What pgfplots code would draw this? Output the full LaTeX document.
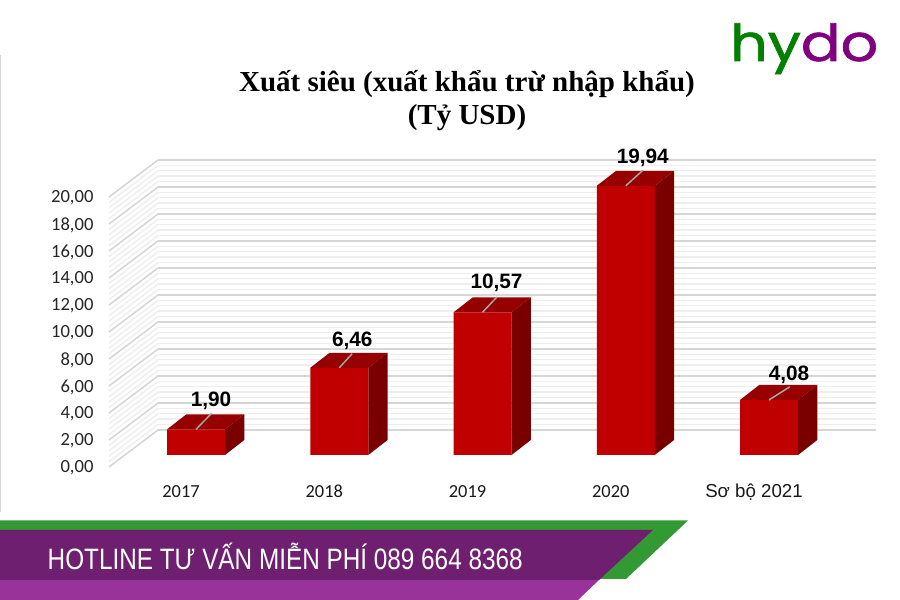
\documentclass[border=0pt]{standalone}
\usepackage{fontspec}
\usepackage{graphicx}
\usepackage{pgfplots}
\usepackage{pgfplotstable}
\pgfplotsset{compat=1.18}
\setmainfont{Liberation Sans}
\newfontfamily\calfont{Carlito}
\newfontfamily\serfont{Liberation Serif}
\newfontfamily\arialfont{Liberation Sans}
\newfontfamily\logofont[FakeBold=1.2]{Poppins}
\definecolor{barfront}{HTML}{C00000}
\definecolor{bartop}{HTML}{960000}
\definecolor{barside}{HTML}{7A0000}
\definecolor{gmaj}{HTML}{D6D6D6}
\definecolor{gmin}{HTML}{EEEEEE}
\definecolor{bgreen}{HTML}{339933}
\definecolor{bpurple}{HTML}{6F1F6F}
\definecolor{blight}{HTML}{993399}
\pgfplotstableread{
x y dx dy
0 1.90 15 29
1 6.46 13 27
2 10.57 14 29
3 19.94 17 28
4 4.08 20 25
}\bars
\begin{document}
\begin{tikzpicture}[x=1pt,y=1pt]
\path[use as bounding box] (0,0) rectangle (900,600);
\fill[white] (0,0) rectangle (900,600);
\draw[gmaj,line width=1.4pt] (0.5,88) -- (0.5,545);
% side wall
\foreach \i in {0,...,50}{
  \pgfmathsetmacro\a{133+5.4*\i}
  \pgfmathsetmacro\b{170+5.4*\i}
  \draw[gmin,line width=1.4pt] (109,\a) -- (158,\b);
}
\foreach \i in {0,5,...,50}{
  \pgfmathsetmacro\a{133+5.4*\i}
  \pgfmathsetmacro\b{170+5.4*\i}
  \draw[gmaj,line width=1.4pt] (109,\a) -- (158,\b);
}
% back wall
\begin{axis}[
  at={(158pt,170pt)},anchor=south west,
  scale only axis,width=718pt,height=270pt,
  xmin=0,xmax=1,ymin=0,ymax=20,
  axis line style={draw=none},
  xtick=\empty,
  ytick={0,2,...,20},
  minor y tick num=4,
  ymajorgrids,yminorgrids,
  major grid style={gmaj,line width=1.4pt},
  minor grid style={gmin,line width=1.4pt},
  tick style={draw=none},
  /pgf/number format/.cd,use comma,fixed,fixed zerofill,precision=2,assume math mode=true,
  /pgfplots/.cd,
  yticklabel style={font=\calfont\fontsize{18.6}{22}\selectfont,text=black!85,anchor=east,xshift=-61pt,yshift=-38pt},
]
\end{axis}
% bars
\begin{axis}[
  at={(124.4pt,145pt)},anchor=south west,
  scale only axis,width=716.25pt,height=270pt,
  xmin=-0.5,xmax=4.5,ymin=0,ymax=20,
  clip=false,
  axis line style={draw=none},
  axis y line=none,
  xtick=data,
  xticklabels={2017,2018,2019,2020,{\arialfont\fontsize{18.7}{22}\selectfont Sơ bộ 2021}},
  xtick style={draw=none},
  xticklabel style={font=\calfont\fontsize{18.4}{22}\selectfont,text=black!90,anchor=base,xshift=-15pt,yshift=-42pt},
]
\addplot[ybar,bar width=58pt,bar shift=0pt,fill=barfront,draw=none,
  visualization depends on={\thisrow{dx}\as\dx},
  visualization depends on={\thisrow{dy}\as\dy},
  nodes near coords,
  /pgf/number format/.cd,use comma,fixed,fixed zerofill,precision=2,assume math mode=true,
  /pgfplots/.cd,
  every node near coord/.append style={font=\bfseries\fontsize{20.8}{24}\selectfont,text=black,anchor=center,xshift=\dx pt,yshift=\dy pt},
] table[x=x,y=y]{\bars};
% top faces
\addplot[fill=bartop,draw=none,no markers] coordinates {(-0.2024,1.90)(0.2024,1.90)(0.337,3.011)(-0.0677,3.011)(-0.2024,1.90)};
\addplot[fill=bartop,draw=none,no markers] coordinates {(0.7976,6.46)(1.2024,6.46)(1.337,7.571)(0.9323,7.571)(0.7976,6.46)};
\addplot[fill=bartop,draw=none,no markers] coordinates {(1.7976,10.57)(2.2024,10.57)(2.337,11.681)(1.9323,11.681)(1.7976,10.57)};
\addplot[fill=bartop,draw=none,no markers] coordinates {(2.7976,19.94)(3.2024,19.94)(3.337,21.051)(2.9323,21.051)(2.7976,19.94)};
\addplot[fill=bartop,draw=none,no markers] coordinates {(3.7976,4.08)(4.2024,4.08)(4.337,5.191)(3.9323,5.191)(3.7976,4.08)};
% side faces
\addplot[fill=barside,draw=none,no markers] coordinates {(0.2024,0)(0.2024,1.90)(0.337,3.011)(0.337,1.111)(0.2024,0)};
\addplot[fill=barside,draw=none,no markers] coordinates {(1.2024,0)(1.2024,6.46)(1.337,7.571)(1.337,1.111)(1.2024,0)};
\addplot[fill=barside,draw=none,no markers] coordinates {(2.2024,0)(2.2024,10.57)(2.337,11.681)(2.337,1.111)(2.2024,0)};
\addplot[fill=barside,draw=none,no markers] coordinates {(3.2024,0)(3.2024,19.94)(3.337,21.051)(3.337,1.111)(3.2024,0)};
\addplot[fill=barside,draw=none,no markers] coordinates {(4.2024,0)(4.2024,4.08)(4.337,5.191)(4.337,1.111)(4.2024,0)};
% leader lines
\addplot[color=black!35,line width=1.5pt,no markers] coordinates {(0,1.90)(0.11,3.1)};
\addplot[color=black!35,line width=1.5pt,no markers] coordinates {(1,6.46)(1.09,7.5)};
\addplot[color=black!35,line width=1.5pt,no markers] coordinates {(2,10.57)(2.10,11.7)};
\addplot[color=black!35,line width=1.5pt,no markers] coordinates {(3,19.94)(3.12,21.1)};
\addplot[color=black!35,line width=1.5pt,no markers] coordinates {(4,4.08)(4.145,5.05)};
\end{axis}
% title
\node[font=\serfont\bfseries\fontsize{29}{33}\selectfont,align=center,text=black] at (467,499) {Xuất siêu (xuất khẩu trừ nhập khẩu)\\(Tỷ USD)};
% logo
\node[anchor=base west,inner sep=0pt,font=\logofont\fontsize{51}{60}\selectfont] at (730,539) {\resizebox{148pt}{\height}{\textcolor[HTML]{008000}{hy}\textcolor[HTML]{800080}{do}}};
% banner
\fill[bgreen] (0,79.5) -- (688,79.5) -- (626,21) -- (0,21) -- cycle;
\fill[blight] (0,21) -- (600,21) -- (578,0) -- (0,0) -- cycle;
\fill[bpurple] (0,70) -- (653,70) -- (599,20) -- (0,20) -- cycle;
\node[anchor=west,inner sep=0pt,text=white,font=\fontsize{29.5}{32}\selectfont] at (47.5,44) {\resizebox{475pt}{\height}{HOTLINE TƯ VẤN MIỄN PHÍ 089 664 8368}};
\end{tikzpicture}
\end{document}
